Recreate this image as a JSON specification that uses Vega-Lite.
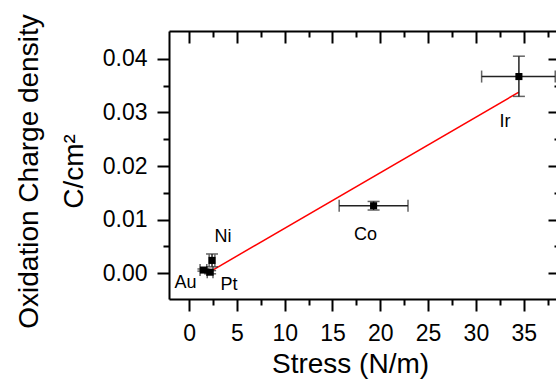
{
  "$schema": "https://vega.github.io/schema/vega-lite/v6.json",
  "width": 387,
  "height": 268,
  "autosize": {"type": "none"},
  "padding": {"left": 169, "top": 31, "right": 0, "bottom": 83},
  "background": "white",
  "config": {
    "view": {"stroke": null},
    "axis": {
      "grid": false,
      "domainColor": "black",
      "domainWidth": 2,
      "tickColor": "black",
      "tickWidth": 2,
      "labelFont": "Liberation Sans",
      "labelFontSize": 23,
      "labelColor": "black",
      "titleFont": "Liberation Sans",
      "titleFontSize": 28,
      "titleFontWeight": "normal",
      "titleColor": "black"
    },
    "text": {"font": "Liberation Sans"}
  },
  "datasets": {
    "pts": [
      {"metal": "Au", "stress": 1.5, "xlo": 1.15, "xhi": 1.85, "charge": 0.0006, "ylo": 0.0004, "yhi": 0.0008},
      {"metal": "Pt", "stress": 2.2, "xlo": 1.9, "xhi": 2.5, "charge": 0.0002, "ylo": -0.0001, "yhi": 0.0005},
      {"metal": "Ni", "stress": 2.4, "xlo": 2.1, "xhi": 2.7, "charge": 0.0024, "ylo": 0.0012, "yhi": 0.0036},
      {"metal": "Co", "stress": 19.3, "xlo": 15.7, "xhi": 22.9, "charge": 0.0126, "ylo": 0.0118, "yhi": 0.0134},
      {"metal": "Ir", "stress": 34.5, "xlo": 30.6, "xhi": 38.3, "charge": 0.0367, "ylo": 0.033, "yhi": 0.0405}
    ],
    "fit": [
      {"stress": 1.8, "charge": -0.0001},
      {"stress": 34.5, "charge": 0.0338}
    ]
  },
  "resolve": {"axis": {"x": "independent", "y": "independent"}},
  "layer": [
    {
      "data": {"name": "fit"},
      "mark": {"type": "line", "color": "#ff0000", "strokeWidth": 1.5},
      "encoding": {
        "x": {
          "field": "stress", "type": "quantitative",
          "scale": {"domain": [-2.1, 38.38], "nice": false, "zero": false},
          "axis": {"orient": "bottom", "values": [0, 5, 10, 15, 20, 25, 30, 35], "tickSize": 12, "labelPadding": 11,
                   "title": "Stress (N/m)", "titleX": 181, "titleY": 73, "titleBaseline": "alphabetic", "titleAlign": "center"}
        },
        "y": {
          "field": "charge", "type": "quantitative",
          "scale": {"domain": [-0.0048, 0.0452], "nice": false, "zero": false},
          "axis": {"orient": "left", "values": [0, 0.01, 0.02, 0.03, 0.04], "format": ".2f", "tickSize": 12, "labelPadding": 10,
                   "title": ["Oxidation Charge density", "C/cm²"], "titleX": -132, "titleY": 140, "titleAngle": -90,
                   "titleBaseline": "alphabetic", "titleAlign": "center", "titleLineHeight": 45}
        }
      }
    },
    {
      "data": {"name": "pts"},
      "mark": {"type": "rule", "color": "#222222", "strokeWidth": 1.5},
      "encoding": {
        "x": {
          "field": "xlo", "type": "quantitative",
          "scale": {"domain": [-2.1, 38.38], "nice": false, "zero": false},
          "axis": {"orient": "bottom", "values": [2.5, 7.5, 12.5, 17.5, 22.5, 27.5, 32.5, 37.5], "tickSize": 6, "labels": false, "domain": false, "title": null}
        },
        "x2": {"field": "xhi"},
        "y": {
          "field": "charge", "type": "quantitative",
          "axis": {"orient": "left", "values": [0.005, 0.015, 0.025, 0.035], "tickSize": 6, "labels": false, "domain": false, "title": null}
        }
      }
    },
    {
      "data": {"name": "pts"},
      "mark": {"type": "rule", "color": "#222222", "strokeWidth": 1.5},
      "encoding": {
        "x": {
          "field": "stress", "type": "quantitative",
          "axis": {"orient": "top", "values": [0, 5, 10, 15, 20, 25, 30, 35], "tickSize": -12, "labels": false, "title": null}
        },
        "y": {
          "field": "ylo", "type": "quantitative",
          "axis": {"orient": "right", "offset": 4, "values": [0, 0.01, 0.02, 0.03, 0.04], "tickSize": -12, "labels": false, "title": null}
        },
        "y2": {"field": "yhi"}
      }
    },
    {
      "data": {"name": "pts"},
      "mark": {"type": "tick", "orient": "vertical", "size": 12, "thickness": 1.5, "color": "#222222"},
      "encoding": {
        "x": {
          "field": "xlo", "type": "quantitative",
          "axis": {"orient": "top", "values": [2.5, 7.5, 12.5, 17.5, 22.5, 27.5, 32.5, 37.5], "tickSize": -6, "labels": false, "domain": false, "title": null}
        },
        "y": {
          "field": "charge", "type": "quantitative",
          "axis": {"orient": "right", "offset": 4, "values": [0.005, 0.015, 0.025, 0.035], "tickSize": -6, "labels": false, "domain": false, "title": null}
        }
      }
    },
    {
      "data": {"name": "pts"},
      "mark": {"type": "tick", "orient": "vertical", "size": 12, "thickness": 1.5, "color": "#222222"},
      "encoding": {
        "x": {"field": "xhi", "type": "quantitative", "axis": null},
        "y": {"field": "charge", "type": "quantitative", "axis": null}
      }
    },
    {
      "data": {"name": "pts"},
      "mark": {"type": "tick", "orient": "horizontal", "size": 12, "thickness": 1.5, "color": "#222222"},
      "encoding": {
        "x": {"field": "stress", "type": "quantitative", "axis": null},
        "y": {"field": "ylo", "type": "quantitative", "axis": null}
      }
    },
    {
      "data": {"name": "pts"},
      "mark": {"type": "tick", "orient": "horizontal", "size": 12, "thickness": 1.5, "color": "#222222"},
      "encoding": {
        "x": {"field": "stress", "type": "quantitative", "axis": null},
        "y": {"field": "yhi", "type": "quantitative", "axis": null}
      }
    },
    {
      "data": {"name": "pts"},
      "mark": {"type": "square", "filled": true, "color": "black", "size": 50, "opacity": 1},
      "encoding": {
        "x": {"field": "stress", "type": "quantitative", "axis": null},
        "y": {"field": "charge", "type": "quantitative", "axis": null}
      }
    },
    {
      "data": {"name": "pts"},
      "transform": [{"filter": "datum.metal === 'Ir'"}],
      "mark": {"type": "text", "fontSize": 18, "color": "black", "align": "center", "baseline": "alphabetic", "dx": -14, "dy": 50},
      "encoding": {
        "x": {"field": "stress", "type": "quantitative", "axis": null},
        "y": {"field": "charge", "type": "quantitative", "axis": null},
        "text": {"field": "metal"}
      }
    },
    {
      "data": {"name": "pts"},
      "transform": [{"filter": "datum.metal === 'Co'"}],
      "mark": {"type": "text", "fontSize": 18, "color": "black", "align": "center", "baseline": "alphabetic", "dx": -8, "dy": 34},
      "encoding": {
        "x": {"field": "stress", "type": "quantitative", "axis": null},
        "y": {"field": "charge", "type": "quantitative", "axis": null},
        "text": {"field": "metal"}
      }
    },
    {
      "data": {"name": "pts"},
      "transform": [{"filter": "datum.metal === 'Ni'"}],
      "mark": {"type": "text", "fontSize": 18, "color": "black", "align": "center", "baseline": "alphabetic", "dx": 11, "dy": -18},
      "encoding": {
        "x": {"field": "stress", "type": "quantitative", "axis": null},
        "y": {"field": "charge", "type": "quantitative", "axis": null},
        "text": {"field": "metal"}
      }
    },
    {
      "data": {"name": "pts"},
      "transform": [{"filter": "datum.metal === 'Au'"}],
      "mark": {"type": "text", "fontSize": 18, "color": "black", "align": "center", "baseline": "alphabetic", "dx": -18, "dy": 18},
      "encoding": {
        "x": {"field": "stress", "type": "quantitative", "axis": null},
        "y": {"field": "charge", "type": "quantitative", "axis": null},
        "text": {"field": "metal"}
      }
    },
    {
      "data": {"name": "pts"},
      "transform": [{"filter": "datum.metal === 'Pt'"}],
      "mark": {"type": "text", "fontSize": 18, "color": "black", "align": "center", "baseline": "alphabetic", "dx": 19, "dy": 18},
      "encoding": {
        "x": {"field": "stress", "type": "quantitative", "axis": null},
        "y": {"field": "charge", "type": "quantitative", "axis": null},
        "text": {"field": "metal"}
      }
    }
  ]
}
